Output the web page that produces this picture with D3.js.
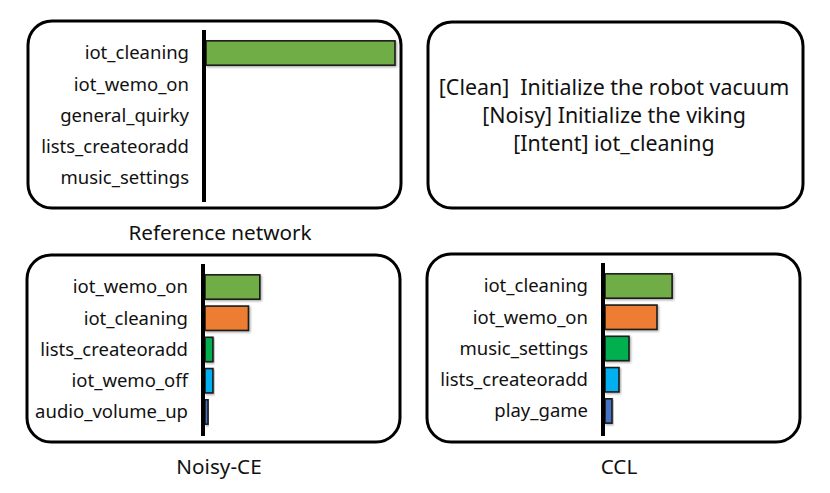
<!DOCTYPE html>
<html>
<head>
<meta charset="utf-8">
<script src="https://cdn.jsdelivr.net/npm/d3@7"></script>
<style>
  html, body { margin: 0; padding: 0; background: #fff; }
  svg { display: block; }
  text { font-family: "Noto Sans", "Lato", sans-serif; fill: #111; }
</style>
</head>
<body>
<div id="chart"></div>
<script>
// ---- data ----
const refLabels   = ["iot_cleaning", "iot_wemo_on", "general_quirky", "lists_createoradd", "music_settings"];
const refValues   = [1.0, 0, 0, 0, 0];
const noisyLabels = ["iot_wemo_on", "iot_cleaning", "lists_createoradd", "iot_wemo_off", "audio_volume_up"];
const noisyValues = [0.29, 0.23, 0.042, 0.042, 0.016];
const cclLabels   = ["iot_cleaning", "iot_wemo_on", "music_settings", "lists_createoradd", "play_game"];
const cclValues   = [0.355, 0.275, 0.127, 0.074, 0.037];
const rankColors  = ["#70AD47", "#ED7D31", "#00B050", "#00B0F0", "#4472C4"];
const titles      = ["Reference network", "Noisy-CE", "CCL"];
const exampleLines = ["[Clean]  Initialize the robot vacuum", "[Noisy] Initialize the viking", "[Intent] iot_cleaning"];

const W = 830, H = 493;
const svg = d3.select("#chart").append("svg").attr("width", W).attr("height", H);

const defs = svg.append("defs");
const f = defs.append("filter").attr("id", "shadow").attr("x", "-10%").attr("y", "-10%").attr("width", "130%").attr("height", "140%");
f.append("feDropShadow").attr("dx", 1.2).attr("dy", 1.2).attr("stdDeviation", 0.8).attr("flood-color", "#000").attr("flood-opacity", 0.35);

function box(x, y, w, h) {
  svg.append("rect").attr("x", x).attr("y", y).attr("width", w).attr("height", h)
    .attr("rx", 24).attr("ry", 24)
    .attr("fill", "#fff").attr("stroke", "#000").attr("stroke-width", 3);
}

function panel(bx, by, bw, bh, labels, values, title) {
  box(bx, by, bw, bh);
  const axisX = bx + 176;
  const x = d3.scaleLinear().domain([0, 1]).range([axisX + 2, axisX + 191]);
  const y = d3.scaleBand().domain(labels).range([by + 16.4, by + 172.6])
    .paddingInner(0.22).paddingOuter(0.11);
  const g = svg.append("g");
  const data = labels.map((l, i) => ({ label: l, value: values[i], color: rankColors[i] }));
  g.selectAll("rect.bar").data(data.filter(d => d.value > 0)).join("rect")
    .attr("class", "bar")
    .attr("x", x(0))
    .attr("y", d => y(d.label))
    .attr("width", d => x(d.value) - x(0))
    .attr("height", y.bandwidth())
    .attr("fill", d => d.color)
    .attr("stroke", "#1a1a1a").attr("stroke-width", 1.6)
    .attr("filter", "url(#shadow)");
  g.selectAll("text.lab").data(data).join("text")
    .attr("class", "lab")
    .attr("x", axisX - 15)
    .attr("y", d => y(d.label) + y.bandwidth() / 2)
    .attr("dy", "0.35em")
    .attr("text-anchor", "end")
    .attr("font-size", 18.5)
    .text(d => d.label);
  g.append("line")
    .attr("x1", axisX).attr("x2", axisX)
    .attr("y1", by + 9).attr("y2", by + bh - 6)
    .attr("stroke", "#000").attr("stroke-width", 4);
  svg.append("text")
    .attr("x", bx + 192).attr("y", by + bh + 32)
    .attr("text-anchor", "middle")
    .attr("font-size", 20.7)
    .text(title);
}

panel(28, 21, 373, 187, refLabels, refValues, titles[0]);
panel(27, 255, 373, 187, noisyLabels, noisyValues, titles[1]);
panel(427, 254, 373, 188, cclLabels, cclValues, titles[2]);

// example box
box(428, 22, 375, 186);
svg.append("g").selectAll("text").data(exampleLines).join("text")
  .attr("x", 614)
  .attr("y", (d, i) => 88 + i * 28)
  .attr("dy", "0.35em")
  .attr("text-anchor", "middle")
  .attr("font-size", 21.4)
  .style("white-space", "pre")
  .attr("xml:space", "preserve")
  .text(d => d);
</script>
</body>
</html>
